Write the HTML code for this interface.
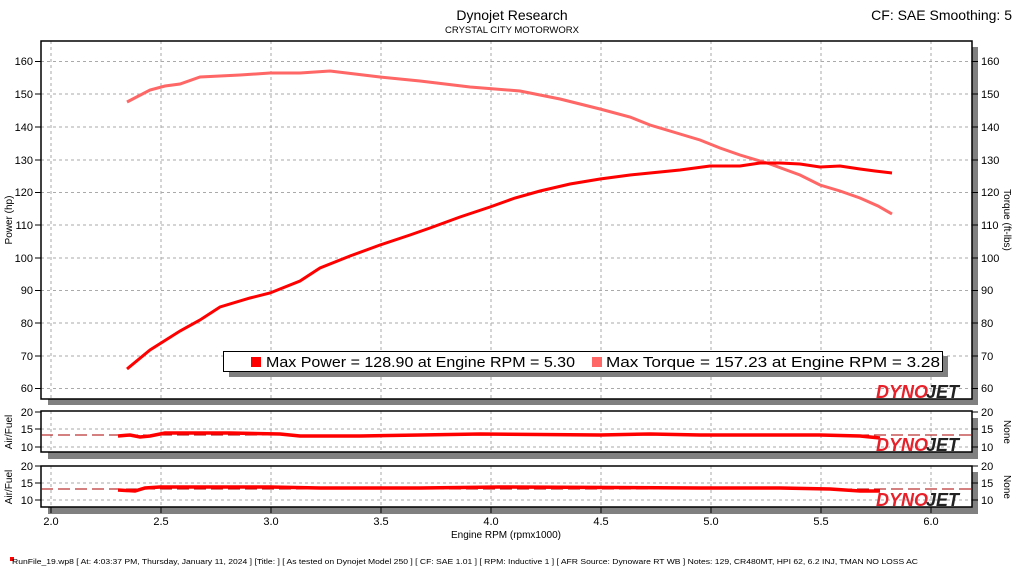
<!DOCTYPE html>
<html><head><style>body{margin:0;background:#fff}svg{display:block;font-family:"Liberation Sans",sans-serif}</style></head><body>
<svg width="1024" height="576" viewBox="0 0 1024 576">
<text x="512" y="20" font-size="14" text-anchor="middle">Dynojet Research</text>
<text x="512" y="33" font-size="9.5" text-anchor="middle">CRYSTAL CITY MOTORWORX</text>
<text x="1012" y="20" font-size="14" text-anchor="end">CF: SAE Smoothing: 5</text>
<rect x="48" y="399" width="930" height="6" fill="#808080"/><rect x="972" y="47" width="6" height="358" fill="#808080"/>
<rect x="48" y="452" width="930" height="7" fill="#808080"/><rect x="972" y="418" width="6" height="41" fill="#808080"/>
<rect x="48" y="507" width="930" height="7" fill="#808080"/><rect x="972" y="472" width="6" height="42" fill="#808080"/>
<g stroke="#aaa" stroke-dasharray="3,3" stroke-width="1">
<path d="M51 41V399M161 41V399M271 41V399M381 41V399M491 41V399M601 41V399M711 41V399M821 41V399M931 41V399"/>
<path d="M41 61.5H972M41 94H972M41 127H972M41 160H972M41 192.5H972M41 225H972M41 258H972M41 290.5H972M41 323H972M41 356H972M41 388.5H972"/>
<path d="M51 411V452M161 411V452M271 411V452M381 411V452M491 411V452M601 411V452M711 411V452M821 411V452M931 411V452M41 429H972M41 447H972"/>
<path d="M51 466V507M161 466V507M271 466V507M381 466V507M491 466V507M601 466V507M711 466V507M821 466V507M931 466V507M41 483H972M41 500H972"/>
</g>
<g fill="none" stroke="#000" stroke-width="1.5">
<rect x="41" y="41" width="931" height="358"/><rect x="41" y="411" width="931" height="41"/><rect x="41" y="466" width="931" height="41"/>
</g>
<g stroke="#000" stroke-width="1">
<path d="M35 61.5H41M35 94H41M35 127H41M35 160H41M35 192.5H41M35 225H41M35 258H41M35 290.5H41M35 323H41M35 356H41M35 388.5H41"/>
<path d="M972 61.5H978M972 94H978M972 127H978M972 160H978M972 192.5H978M972 225H978M972 258H978M972 290.5H978M972 323H978M972 356H978M972 388.5H978"/>
<path d="M35 412H41M35 429H41M35 447H41M972 412H978M972 429H978M972 447H978M35 466H41M35 483H41M35 500H41M972 466H978M972 483H978M972 500H978"/>
<path d="M51 507V513M161 507V513M271 507V513M381 507V513M491 507V513M601 507V513M711 507V513M821 507V513M931 507V513"/>
</g>
<g font-size="11" text-anchor="end" fill="#000">
<text x="33" y="65">160</text><text x="33" y="98">150</text><text x="33" y="131">140</text><text x="33" y="164">130</text><text x="33" y="196">120</text><text x="33" y="229">110</text><text x="33" y="262">100</text><text x="33" y="294">90</text><text x="33" y="327">80</text><text x="33" y="360">70</text><text x="33" y="392">60</text>
<text x="33" y="416">20</text><text x="33" y="433">15</text><text x="33" y="451">10</text><text x="33" y="470">20</text><text x="33" y="487">15</text><text x="33" y="504">10</text>
</g>
<g font-size="11" fill="#000">
<text x="981" y="65">160</text><text x="981" y="98">150</text><text x="981" y="131">140</text><text x="981" y="164">130</text><text x="981" y="196">120</text><text x="981" y="229">110</text><text x="981" y="262">100</text><text x="981" y="294">90</text><text x="981" y="327">80</text><text x="981" y="360">70</text><text x="981" y="392">60</text>
<text x="981" y="416">20</text><text x="981" y="433">15</text><text x="981" y="451">10</text><text x="981" y="470">20</text><text x="981" y="487">15</text><text x="981" y="504">10</text>
</g>
<g font-size="11" text-anchor="middle"><text x="51" y="525">2.0</text><text x="161" y="525">2.5</text><text x="271" y="525">3.0</text><text x="381" y="525">3.5</text><text x="491" y="525">4.0</text><text x="601" y="525">4.5</text><text x="711" y="525">5.0</text><text x="821" y="525">5.5</text><text x="931" y="525">6.0</text>
<text x="506" y="538" font-size="10">Engine RPM (rpmx1000)</text></g>
<text transform="translate(12 220) rotate(-90)" font-size="10" text-anchor="middle">Power (hp)</text>
<text transform="translate(1004 220) rotate(90)" font-size="10" text-anchor="middle">Torque (ft-lbs)</text>
<text transform="translate(12 432) rotate(-90)" font-size="10" text-anchor="middle">Air/Fuel</text>
<text transform="translate(12 487) rotate(-90)" font-size="10" text-anchor="middle">Air/Fuel</text>
<text transform="translate(1004 432) rotate(90)" font-size="10" text-anchor="middle">None</text>
<text transform="translate(1004 487) rotate(90)" font-size="10" text-anchor="middle">None</text>
<path d="M41 435H972M41 489H972" stroke="#a00" stroke-dasharray="12,5" stroke-width="1"/>
<polyline fill="none" stroke="#ff6666" stroke-width="3" points="127,102 150,90 165,86 180,84 200,77 240,75 270,73 300,73 330,71 355,74 380,77 420,81 470,87 520,91 560,99 600,109 630,117 650,125 680,134 700,140 720,148 740,155 770,164 800,175 820,185 840,191 860,198 878,206 892,214"/>
<polyline fill="none" stroke="#ff0000" stroke-width="3" points="127,369 150,350 180,331 200,320 220,307 250,298 270,293 300,281 320,268 350,256 380,245 410,235 430,228 460,217 490,207 515,198 540,191 570,184 600,179 630,175 650,173 680,170 710,166 740,166 760,163 780,163 800,164 820,167 840,166 860,169 875,171 892,173"/>
<polyline fill="none" stroke="#ff0000" stroke-width="3.5" points="118,436 130,435 140,437 150,436 165,433 230,433 280,434 300,436 360,436 420,435 480,434 600,435 650,434 700,435 820,435 860,436 880,438"/>
<polyline fill="none" stroke="#ff0000" stroke-width="3.5" points="118,490 135,491 145,488 160,487 270,487 320,488 420,488 500,487 700,488 780,488 830,489 860,491 880,491"/>
<g font-weight="bold" font-style="italic" font-size="18">
<text x="876" y="398" fill="#e8202a">DYNO</text><text x="926" y="398" fill="#222">JET</text>
<text x="876" y="451" fill="#e8202a">DYNO</text><text x="926" y="451" fill="#222">JET</text>
<text x="876" y="506" fill="#e8202a">DYNO</text><text x="926" y="506" fill="#222">JET</text>
</g>
<rect x="229" y="356" width="719" height="21" fill="#808080"/>
<rect x="223.5" y="351.5" width="719" height="20" fill="#fff" stroke="#000"/>
<rect x="251" y="357" width="10" height="10" fill="#ff0000"/><rect x="592" y="357" width="10" height="10" fill="#ff6666"/>
<text x="266" y="367" font-size="15" textLength="309" lengthAdjust="spacingAndGlyphs">Max Power = 128.90 at Engine RPM = 5.30</text>
<text x="606" y="367" font-size="15" textLength="334" lengthAdjust="spacingAndGlyphs">Max Torque = 157.23 at Engine RPM = 3.28</text>
<rect x="10" y="557" width="4" height="4" fill="#f00"/>
<text x="12" y="564" font-size="7.5" textLength="906" lengthAdjust="spacingAndGlyphs">RunFile_19.wp8 [ At: 4:03:37 PM, Thursday, January 11, 2024 ] [Title: ]  [ As tested on Dynojet Model 250 ] [ CF: SAE 1.01 ] [ RPM: Inductive 1 ] [ AFR Source: Dynoware RT WB ] Notes: 129, CR480MT, HPI 62, 6.2 INJ, TMAN NO LOSS AC</text>
</svg>
</body></html>
